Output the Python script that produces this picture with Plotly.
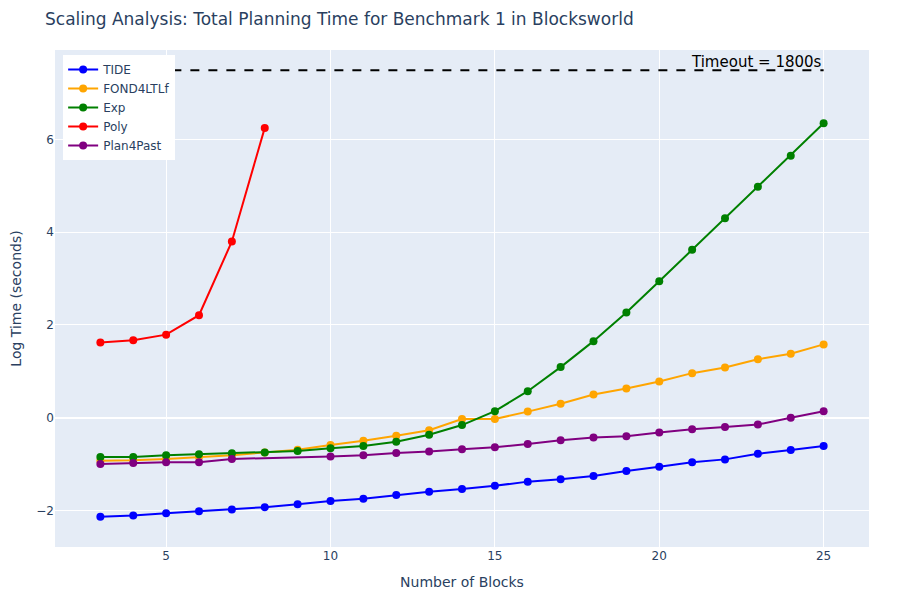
import numpy as np
import plotly.graph_objects as go

blocks = list(range(3, 26))
plan4past_blocks = [3, 4, 5, 6, 7] + list(range(10, 26))
poly_blocks = [3, 4, 5, 6, 7, 8]

tide = [-2.14, -2.11, -2.06, -2.02, -1.98, -1.93, -1.87, -1.80, -1.75, -1.67, -1.60, -1.54,
        -1.47, -1.38, -1.33, -1.26, -1.15, -1.06, -0.96, -0.90, -0.78, -0.70, -0.61]
fond4ltlf = [-0.93, -0.92, -0.89, -0.85, -0.81, -0.75, -0.69, -0.59, -0.50, -0.39, -0.27, -0.03,
             -0.03, 0.13, 0.30, 0.50, 0.63, 0.78, 0.96, 1.08, 1.26, 1.38, 1.58]
exp = [-0.85, -0.85, -0.81, -0.79, -0.77, -0.75, -0.72, -0.66, -0.61, -0.52, -0.37, -0.16,
       0.14, 0.57, 1.09, 1.65, 2.27, 2.94, 3.62, 4.30, 4.98, 5.65, 6.35]
poly = [1.62, 1.67, 1.79, 2.21, 3.80, 6.25]
plan4past = [-1.00, -0.98, -0.96, -0.96, -0.89, -0.84, -0.81, -0.76, -0.73, -0.68, -0.64,
             -0.57, -0.49, -0.43, -0.40, -0.32, -0.25, -0.20, -0.15, 0.00, 0.14]

timeout_seconds = 1800
timeout_log = float(np.log(timeout_seconds))

series = [
    ("TIDE", blocks, tide, "blue"),
    ("FOND4LTLf", blocks, fond4ltlf, "orange"),
    ("Exp", blocks, exp, "green"),
    ("Poly", poly_blocks, poly, "red"),
    ("Plan4Past", plan4past_blocks, plan4past, "purple"),
]

fig = go.Figure()
for name, xs, ys, color in series:
    fig.add_trace(go.Scatter(
        x=xs, y=ys, mode="lines+markers", name=name,
        line=dict(color=color, width=2),
        marker=dict(color=color, size=8),
    ))

fig.add_trace(go.Scatter(
    x=[blocks[0], blocks[-1]], y=[timeout_log, timeout_log], mode="lines",
    line=dict(color="black", width=2, dash="dash"), showlegend=False, hoverinfo="skip",
))
fig.add_annotation(
    x=blocks[-1], y=timeout_log, text=f"Timeout = {timeout_seconds}s",
    showarrow=False, xanchor="right", yanchor="bottom",
    font=dict(size=15, color="black"), yshift=-3,
)

fig.update_layout(
    width=884, height=584,
    font=dict(family="DejaVu Sans"),
    title=dict(text="Scaling Analysis: Total Planning Time for Benchmark 1 in Blocksworld",
               x=37 / 884, xanchor="left", y=1 - 11 / 584, yanchor="middle"),
    xaxis=dict(title=dict(text="Number of Blocks"), range=[1.62, 26.38], automargin=False),
    yaxis=dict(title=dict(text="Log Time (seconds)"), range=[-2.79, 7.93], automargin=False),
    legend=dict(x=0.01, y=0.99, xanchor="left", yanchor="top", bgcolor="white"),
    margin=dict(l=47, r=23, t=42, b=45),
)

fig.write_html("out.html")
